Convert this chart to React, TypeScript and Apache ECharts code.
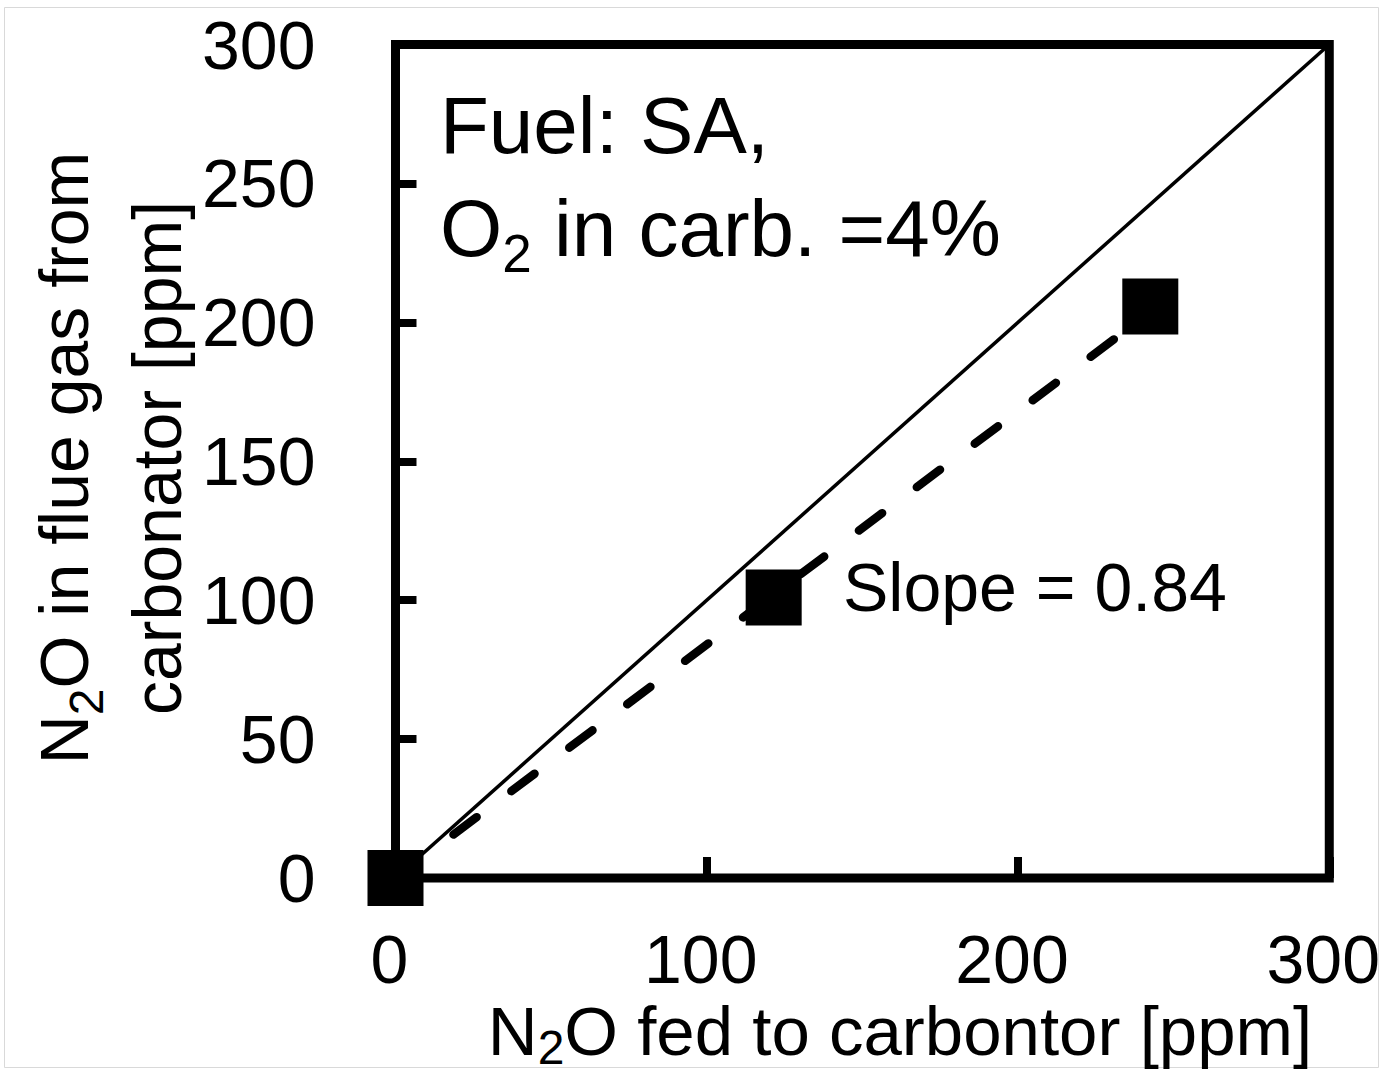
import React, { useEffect, useRef } from "react";
import * as echarts from "echarts";

const xTicks = [0, 100, 200, 300];
const yTicks = [0, 50, 100, 150, 200, 250, 300];
const measuredX = [0, 121.5, 242.5];
const measuredY = [0, 101, 205.7];
const identityX = [0, 300];
const identityY = [0, 300];
const fitSlope = 0.84;
const fitX = [0, 242.5];
const annotationLines = ["Fuel: SA,", "O{sub|2} in carb. =4%"];
const slopeText = "Slope = 0.84";
const xTitle = "N{sub|2}O fed to carbontor [ppm]";
const yTitle = ["N{sub|2}O in flue gas from", "carbonator [ppm]"];

const FONT = "'Liberation Sans', Arial, Helvetica, sans-serif";

export default function App() {
  const ref = useRef<HTMLDivElement>(null);
  useEffect(() => {
    if (!ref.current) return;
    const chart = echarts.init(ref.current, undefined, { renderer: "svg" });
    const option = {
      animation: false,
      backgroundColor: "#ffffff",
      grid: {
        left: 395.5,
        top: 44.5,
        right: 48.5,
        bottom: 194,
        show: true,
        borderColor: "#000",
        borderWidth: 9,
        backgroundColor: "transparent",
      },
      xAxis: {
        type: "value",
        min: xTicks[0],
        max: xTicks[xTicks.length - 1],
        interval: xTicks[1] - xTicks[0],
        axisLine: { show: false },
        axisTick: { show: true, inside: true, length: 21, lineStyle: { color: "#000", width: 8 } },
        splitLine: { show: false },
        axisLabel: {
          color: "#000",
          fontSize: 68,
          fontFamily: FONT,
          margin: 47,
          padding: [0, 12, 0, 0],
        },
      },
      yAxis: {
        type: "value",
        min: yTicks[0],
        max: yTicks[yTicks.length - 1],
        interval: yTicks[1] - yTicks[0],
        axisLine: { show: false },
        axisTick: { show: true, inside: true, length: 21, lineStyle: { color: "#000", width: 8 } },
        splitLine: { show: false },
        axisLabel: {
          color: "#000",
          fontSize: 68,
          fontFamily: FONT,
          margin: 80,
        },
      },
      series: [
        {
          type: "line",
          data: identityX.map((x, i) => [x, identityY[i]]),
          symbol: "none",
          lineStyle: { color: "#000", width: 3.5 },
          z: 2,
        },
        {
          type: "line",
          data: fitX.map((x) => [x, x * fitSlope]),
          symbol: "none",
          lineStyle: { color: "#000", width: 8.5, type: [29, 43.4], cap: "round" },
          z: 3,
        },
        {
          type: "scatter",
          data: measuredX.map((x, i) => [x, measuredY[i]]),
          symbol: "rect",
          symbolSize: 56,
          itemStyle: { color: "#000", opacity: 1 },
          z: 5,
        },
      ],
      graphic: [
        {
          type: "rect",
          shape: { x: 4.5, y: 7.5, width: 1374, height: 1060 },
          style: { fill: "none", stroke: "#d9d9d9", lineWidth: 1 },
          silent: true,
          z: -10,
        },
        {
          type: "text",
          x: 440,
          y: 73.8,
          style: {
            text: annotationLines.join("\n"),
            fontSize: 80,
            fontFamily: FONT,
            fill: "#000",
            lineHeight: 103,
            align: "left",
            verticalAlign: "top",
            rich: {
              sub: { fontSize: 53, lineHeight: 65, verticalAlign: "bottom", fontFamily: FONT, fill: "#000" },
            },
          },
        },
        {
          type: "text",
          x: 843,
          y: 587,
          style: {
            text: slopeText,
            fontSize: 68,
            fontFamily: FONT,
            fill: "#000",
            align: "left",
            verticalAlign: "middle",
          },
        },
        {
          type: "text",
          x: 900,
          y: 1031,
          style: {
            text: xTitle,
            fontSize: 69,
            fontFamily: FONT,
            fill: "#000",
            lineHeight: 80,
            align: "center",
            verticalAlign: "middle",
            rich: {
              sub: { fontSize: 48, lineHeight: 38, verticalAlign: "bottom", fontFamily: FONT, fill: "#000" },
            },
          },
        },
        {
          type: "text",
          x: 110,
          y: 458,
          rotation: Math.PI / 2,
          style: {
            text: yTitle.join("\n"),
            fontSize: 68,
            fontFamily: FONT,
            fill: "#000",
            lineHeight: 93,
            align: "center",
            verticalAlign: "middle",
            rich: {
              sub: { fontSize: 48, lineHeight: 51, verticalAlign: "bottom", fontFamily: FONT, fill: "#000" },
            },
          },
        },
      ],
    };
    chart.setOption(option as any);
    return () => chart.dispose();
  }, []);
  return (
    <div
      ref={ref}
      style={{ position: "fixed", left: 0, top: 0, width: 1383, height: 1072, background: "#fff" }}
    />
  );
}
